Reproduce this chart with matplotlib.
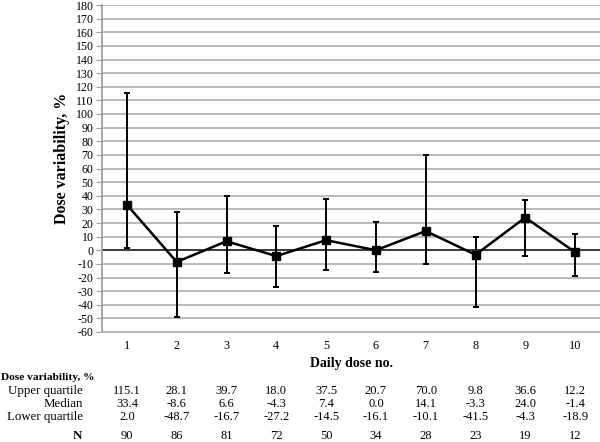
import matplotlib
matplotlib.use("Agg")
import matplotlib.pyplot as plt
import matplotlib.transforms as mtransforms

plt.rcParams['font.family'] = ['Liberation Serif', 'DejaVu Serif']

days = [1, 2, 3, 4, 5, 6, 7, 8, 9, 10]
upper = [115.1, 28.1, 39.7, 18.0, 37.5, 20.7, 70.0, 9.8, 36.6, 12.2]
median = [33.4, -8.6, 6.6, -4.3, 7.4, 0.0, 14.1, -3.3, 24.0, -1.4]
lower = [2.0, -48.7, -16.7, -27.2, -14.5, -16.1, -10.1, -41.5, -4.3, -18.9]
n_counts = [90, 86, 81, 72, 50, 34, 28, 23, 19, 12]
yticks = list(range(-60, 181, 10))

W, H = 600, 442
fig = plt.figure(figsize=(W / 100, H / 100), dpi=100)
ax = fig.add_axes([102 / W, 110 / H, 498 / W, 327 / H])

ax.set_xlim(0.5, 10.5)
ax.set_ylim(-60, 180)
ax.set_yticks(yticks)
ax.set_yticklabels([str(t) for t in yticks], fontsize=8.6)
ax.set_xticks(days)
ax.set_xticklabels([str(d) for d in days], fontsize=8.8)
ax.yaxis.grid(True, color='#b4b4b4', linewidth=1.3)
ax.set_axisbelow(True)
for s in ['top', 'right']:
    ax.spines[s].set_visible(False)
ax.spines['left'].set_color('#9a9a9a')
ax.spines['left'].set_linewidth(1.2)
ax.spines['bottom'].set_color('#b4b4b4')
ax.spines['bottom'].set_linewidth(1.3)
ax.tick_params(axis='y', length=4, color='#9a9a9a', pad=2)
ax.tick_params(axis='x', length=0, pad=6)
ax.axhline(0, color='#3a3a3a', linewidth=1.4, zorder=2)

yerr_low = [m - l for m, l in zip(median, lower)]
yerr_high = [u - m for u, m in zip(upper, median)]
ax.errorbar(days, median, yerr=[yerr_low, yerr_high], fmt='none',
            ecolor='black', elinewidth=1.4, capsize=2, capthick=1.4, zorder=3)
ax.plot(days, median, color='black', linewidth=1.8, marker='s',
        markersize=5.5, zorder=4)

ax.set_ylabel('Dose variability, %', fontsize=11.5, fontweight='bold')
ax.yaxis.set_label_coords((62 - 102) / 498, (442 - 158 - 110) / 327)
ax.set_xlabel('Daily dose no.', fontsize=10, fontweight='bold')
ax.xaxis.set_label_coords(0.5, -(363 - 332) / 327)
ax.xaxis.label.set_va('center')
ax.yaxis.label.set_va('center')

# Table below
trans = mtransforms.blended_transform_factory(ax.transData, fig.transFigure)
def fy(py):
    return 1 - py / H

fig.text(1 / W, fy(378), 'Dose variability, %', fontsize=8.2, fontweight='bold',
         va='center', ha='left')
rows = [('Upper quartile', upper, 391), ('Median', median, 404),
        ('Lower quartile', lower, 417)]
for label, vals, py in rows:
    fig.text(83 / W, fy(py), label, fontsize=9.3, va='center', ha='right')
    for d, v in zip(days, vals):
        ax.text(d, fy(py), f'{v:.1f}', transform=trans, fontsize=9,
                va='center', ha='center')
fig.text(82 / W, fy(436), 'N', fontsize=9.3, fontweight='bold', va='center', ha='right')
for d, v in zip(days, n_counts):
    ax.text(d, fy(436), str(v), transform=trans, fontsize=9,
            va='center', ha='center')

fig.savefig('out.png', dpi=100)
